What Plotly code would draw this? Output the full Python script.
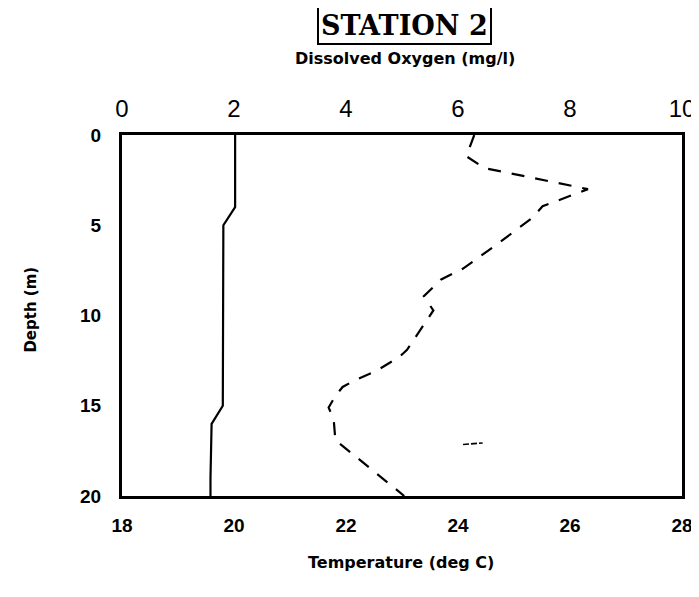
import plotly.graph_objects as go

# Temperature profile (bottom axis, deg C) vs depth (m)
temp_depth = [0, 1, 2, 3, 4, 5, 6, 7, 8, 9, 10, 11, 12, 13, 14, 15, 16, 17, 18, 19, 20]
temp_values = [20.02, 20.02, 20.02, 20.02, 20.02, 19.81, 19.81, 19.81, 19.80, 19.80, 19.80,
               19.80, 19.80, 19.80, 19.80, 19.80, 19.60, 19.59, 19.59, 19.58, 19.58]

# Dissolved oxygen profile (top axis, mg/l) vs depth (m)
do_depth = [0, 1.18, 1.83, 3.0, 3.95, 4.59, 6.2, 7.4, 8.0, 8.93, 9.72, 11.9, 12.3,
            12.7, 13.05, 13.6, 13.96, 14.46, 15.1, 15.75, 16.9, 20]
do_values = [6.29, 6.15, 6.47, 8.32, 7.51, 7.33, 6.63, 6.09, 5.70, 5.39, 5.56, 5.09, 4.95,
             4.74, 4.55, 4.15, 3.94, 3.81, 3.69, 3.78, 3.81, 5.04]

# small stray stroke visible in the original
stray_depth = [17.15, 17.06]
stray_do = [6.09, 6.44]

depth_ticks = [0, 5, 10, 15, 20]
temp_ticks = [18, 20, 22, 24, 26, 28]
do_ticks = [0, 2, 4, 6, 8, 10]

fig = go.Figure()
fig.add_trace(go.Scatter(x=temp_values, y=temp_depth, mode="lines",
                         line=dict(color="black", width=2.2), xaxis="x", yaxis="y",
                         showlegend=False))
fig.add_trace(go.Scatter(x=do_values, y=do_depth, mode="lines",
                         line=dict(color="black", width=2.2, dash="13px,11px"),
                         xaxis="x2", yaxis="y", showlegend=False))
fig.add_trace(go.Scatter(x=stray_do, y=stray_depth, mode="lines",
                         line=dict(color="black", width=1.6, dash="6px,2px"),
                         xaxis="x2", yaxis="y", showlegend=False))

fig.update_layout(
    width=699, height=597,
    margin=dict(l=114, r=22, t=127, b=109),
    paper_bgcolor="white", plot_bgcolor="white",
    xaxis=dict(range=[18, 28], tickvals=temp_ticks, ticktext=[str(v) for v in temp_ticks],
               showgrid=False, zeroline=False, showline=True, linecolor="black",
               linewidth=3, mirror=True, ticks="", ticklabelstandoff=10,
               tickfont=dict(family="Liberation Sans", size=19, color="black", weight="bold")),
    xaxis2=dict(range=[0, 10], tickvals=do_ticks, ticktext=[str(v) for v in do_ticks],
                overlaying="x", side="top", anchor="y",
                showgrid=False, zeroline=False, showline=False, ticks="",
                ticklabelstandoff=12,
                tickfont=dict(family="Liberation Sans", size=24, color="black")),
    yaxis=dict(range=[20, 0], tickvals=depth_ticks, ticktext=[str(v) for v in depth_ticks],
               showgrid=False, zeroline=False, showline=True, linecolor="black",
               linewidth=3, mirror=True, ticks="", ticklabelstandoff=14,
               tickfont=dict(family="Liberation Sans", size=19, color="black", weight="bold")),
    annotations=[
        dict(text="<b>STATION 2</b>", xref="paper", yref="paper", x=0.5053, y=1.302,
             showarrow=False, font=dict(family="DejaVu Serif", size=27, color="black"),
             bordercolor="black", borderwidth=2, borderpad=2, xanchor="center", yanchor="middle"),
        dict(text="Dissolved Oxygen (mg/l)", xref="paper", yref="paper", x=0.5053, y=1.213,
             showarrow=False, font=dict(family="DejaVu Sans", size=16, color="black", weight="bold"),
             xanchor="center", yanchor="middle"),
        dict(text="Depth (m)", xref="paper", yref="paper", x=-0.1616, y=0.515,
             showarrow=False, textangle=-90,
             font=dict(family="DejaVu Sans", size=15, color="black", weight="bold"),
             xanchor="center", yanchor="middle"),
        dict(text="Temperature (deg C)", xref="paper", yref="paper", x=0.499, y=-0.183,
             showarrow=False, font=dict(family="DejaVu Sans", size=16, color="black", weight="bold"),
             xanchor="center", yanchor="middle"),
    ],
)

fig.write_html("out.html")
